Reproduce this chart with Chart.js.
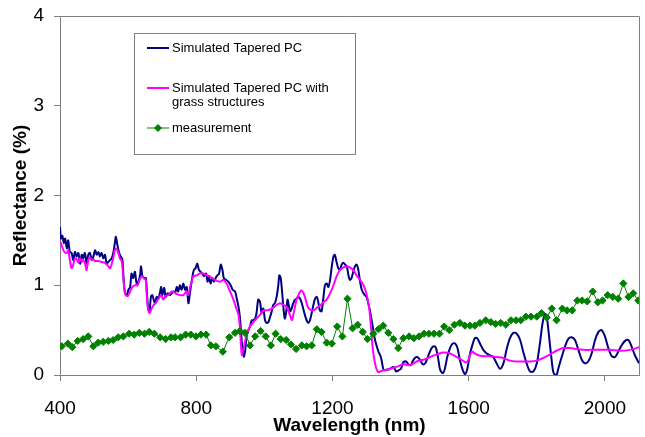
<!DOCTYPE html>
<html>
<head>
<meta charset="utf-8">
<script src="https://cdn.jsdelivr.net/npm/chart.js@4.4.1/dist/chart.umd.min.js"></script>
<style>
  html, body { margin: 0; padding: 0; background: #fff; }
  canvas { display: block; }
</style>
</head>
<body>
<canvas id="chart" width="645" height="437"></canvas>
<script>
const FONT = "'Liberation Sans', Arial, sans-serif";
const COLORS = {
    SIM: '#000080',
    GRASS: '#FF00FF',
    MEAS: '#008000',
    AXIS: '#808080'
};

// Simulated Tapered PC (wavelength nm / reflectance %)
const simWavelength = [400, 403, 407, 411, 415, 420, 424, 429, 434, 439, 444, 449, 454, 459, 464, 468, 473, 478, 483, 488,
    493, 498, 503, 508, 513, 517, 522, 527, 532, 537, 542, 547, 552, 557, 561, 564, 568, 573, 578, 583,
    587, 591, 596, 601, 606, 610, 615, 620, 625, 630, 635, 638, 642, 648, 652, 655, 659, 663, 667, 671,
    675, 679, 684, 689, 694, 697, 700, 706, 710, 716, 723, 728, 733, 738, 743, 747, 752, 757, 762, 767,
    772, 777, 780, 784, 789, 793, 798, 803, 808, 813, 818, 823, 829, 833, 837, 842, 847, 852, 857, 862,
    867, 872, 877, 881, 887, 894, 901, 907, 914, 919, 924, 928, 932, 936, 940, 944, 948, 953, 958, 963,
    968, 973, 977, 982, 987, 992, 997, 1002, 1007, 1012, 1017, 1021, 1026, 1031, 1036, 1041, 1044, 1048, 1052, 1056,
    1060, 1064, 1068, 1072, 1076, 1080, 1085, 1090, 1095, 1100, 1105, 1110, 1114, 1119, 1124, 1129, 1134, 1139, 1144, 1149,
    1154, 1158, 1163, 1168, 1173, 1178, 1183, 1188, 1193, 1198, 1203, 1207, 1212, 1217, 1222, 1227, 1232, 1237, 1242, 1247,
    1251, 1256, 1261, 1266, 1271, 1276, 1281, 1286, 1291, 1295, 1300, 1305, 1310, 1315, 1320, 1325, 1330, 1335, 1340, 1344,
    1349, 1354, 1359, 1364, 1369, 1379, 1387, 1393, 1401, 1408, 1416, 1423, 1430, 1435, 1442, 1449, 1457, 1465, 1472, 1477,
    1484, 1491, 1498, 1504, 1511, 1516, 1524, 1530, 1537, 1545, 1553, 1560, 1567, 1574, 1582, 1589, 1596, 1604, 1612, 1618,
    1625, 1633, 1643, 1653, 1662, 1672, 1682, 1692, 1702, 1711, 1721, 1731, 1741, 1751, 1760, 1770, 1780, 1790, 1800, 1809,
    1817, 1824, 1829, 1834, 1839, 1844, 1848, 1853, 1858, 1863, 1873, 1883, 1892, 1902, 1912, 1922, 1932, 1941, 1951, 1961,
    1971, 1981, 1990, 2000, 2010, 2020, 2030, 2039, 2049, 2059, 2069, 2078, 2088, 2100];
const simReflectance = [1.65, 1.52, 1.55, 1.47, 1.52, 1.41, 1.50, 1.37, 1.36, 1.28, 1.37, 1.32, 1.36, 1.24, 1.34, 1.30, 1.36, 1.24, 1.34, 1.36,
    1.28, 1.32, 1.39, 1.34, 1.37, 1.32, 1.36, 1.30, 1.34, 1.24, 1.26, 1.28, 1.30, 1.37, 1.47, 1.54, 1.46, 1.37, 1.32, 1.29,
    1.06, 0.91, 0.89, 0.95, 0.98, 1.13, 1.08, 1.15, 1.02, 1.04, 1.11, 1.21, 1.10, 1.08, 1.08, 0.93, 0.74, 0.72, 0.87, 0.89,
    0.84, 0.80, 0.87, 0.85, 0.93, 0.98, 0.89, 0.97, 0.87, 0.91, 0.89, 0.91, 0.93, 0.92, 0.98, 0.93, 1.00, 0.95, 1.02, 0.95,
    0.98, 0.80, 0.87, 0.98, 1.10, 1.17, 1.19, 1.24, 1.17, 1.15, 1.13, 1.10, 1.13, 1.04, 1.10, 1.02, 1.08, 1.04, 1.08, 1.11,
    1.13, 1.23, 1.17, 1.08, 1.06, 1.04, 1.00, 0.95, 0.93, 0.85, 0.76, 0.65, 0.46, 0.28, 0.20, 0.28, 0.43, 0.50, 0.54, 0.61,
    0.61, 0.63, 0.69, 0.84, 0.82, 0.69, 0.74, 0.61, 0.58, 0.59, 0.65, 0.70, 0.78, 0.80, 0.87, 1.00, 1.11, 1.08, 0.93, 0.75,
    0.63, 0.70, 0.84, 0.77, 0.71, 0.74, 0.80, 0.84, 0.85, 0.87, 0.85, 0.80, 0.74, 0.67, 0.61, 0.58, 0.61, 0.69, 0.78, 0.85,
    0.87, 0.82, 0.72, 0.71, 0.85, 1.00, 1.02, 0.98, 1.06, 1.21, 1.32, 1.34, 1.26, 1.19, 1.17, 1.23, 1.25, 1.23, 1.21, 1.11,
    1.06, 1.08, 1.15, 1.21, 1.23, 1.17, 1.04, 0.95, 0.91, 0.89, 0.87, 0.80, 0.72, 0.61, 0.50, 0.39, 0.32, 0.26, 0.22, 0.17,
    0.07, 0.05, 0.06, 0.06, 0.07, 0.09, 0.04, 0.05, 0.07, 0.14, 0.15, 0.12, 0.11, 0.15, 0.19, 0.20, 0.17, 0.12, 0.13, 0.17,
    0.24, 0.30, 0.32, 0.30, 0.17, 0.06, 0.02, 0.07, 0.20, 0.30, 0.35, 0.35, 0.30, 0.17, 0.06, 0.01, 0.07, 0.24, 0.35, 0.41,
    0.41, 0.35, 0.28, 0.24, 0.22, 0.20, 0.13, 0.07, 0.13, 0.28, 0.41, 0.47, 0.46, 0.39, 0.26, 0.13, 0.04, 0.04, 0.13, 0.35,
    0.58, 0.68, 0.65, 0.50, 0.32, 0.15, 0.04, 0.00, 0.00, 0.07, 0.20, 0.32, 0.40, 0.42, 0.39, 0.28, 0.17, 0.13, 0.15, 0.24,
    0.39, 0.48, 0.50, 0.43, 0.30, 0.21, 0.20, 0.26, 0.33, 0.38, 0.39, 0.32, 0.22, 0.13];

// Simulated Tapered PC with grass structures
const grassWavelength = [400, 405, 413, 420, 424, 429, 434, 439, 444, 449, 454, 459, 464, 468, 473, 478, 483, 488, 493, 498,
    503, 513, 522, 532, 542, 547, 552, 557, 561, 566, 571, 576, 581, 585, 589, 593, 599, 606, 612, 620,
    628, 635, 642, 648, 652, 655, 659, 663, 669, 675, 681, 689, 697, 703, 710, 718, 728, 736, 743, 752,
    762, 772, 777, 782, 787, 791, 801, 811, 821, 831, 840, 850, 860, 870, 880, 889, 897, 904, 911, 917,
    924, 928, 931, 934, 938, 943, 948, 953, 958, 968, 977, 987, 997, 1007, 1017, 1026, 1036, 1046, 1056, 1065,
    1075, 1081, 1085, 1090, 1095, 1100, 1105, 1110, 1114, 1119, 1124, 1129, 1134, 1139, 1144, 1149, 1154, 1163, 1173, 1183,
    1193, 1203, 1212, 1222, 1232, 1242, 1251, 1261, 1271, 1281, 1291, 1298, 1303, 1308, 1312, 1316, 1320, 1325, 1330, 1335,
    1340, 1349, 1359, 1369, 1388, 1408, 1428, 1447, 1467, 1486, 1506, 1525, 1545, 1565, 1579, 1592, 1599, 1609, 1618, 1628,
    1643, 1662, 1682, 1702, 1721, 1741, 1760, 1780, 1800, 1819, 1839, 1858, 1878, 1897, 1917, 1937, 1956, 1985, 2015, 2044,
    2074, 2100];
const grassReflectance = [1.49, 1.44, 1.37, 1.36, 1.39, 1.28, 1.19, 1.23, 1.30, 1.29, 1.25, 1.30, 1.26, 1.28, 1.25, 1.17, 1.28, 1.31, 1.28, 1.29,
    1.27, 1.27, 1.26, 1.25, 1.21, 1.19, 1.24, 1.32, 1.39, 1.41, 1.36, 1.30, 1.27, 1.13, 0.95, 0.89, 0.88, 0.93, 0.98, 1.00,
    1.00, 1.07, 1.10, 1.07, 1.06, 0.87, 0.72, 0.69, 0.74, 0.78, 0.80, 0.85, 0.89, 0.84, 0.88, 0.89, 0.93, 0.92, 0.90, 0.89,
    0.89, 0.93, 0.89, 0.98, 1.04, 1.10, 1.11, 1.13, 1.13, 1.11, 1.10, 1.07, 1.05, 1.04, 1.06, 1.02, 0.95, 0.89, 0.82, 0.75,
    0.67, 0.54, 0.35, 0.22, 0.28, 0.37, 0.45, 0.50, 0.54, 0.59, 0.63, 0.67, 0.72, 0.72, 0.73, 0.75, 0.78, 0.80, 0.78, 0.76,
    0.67, 0.61, 0.67, 0.76, 0.85, 0.89, 0.93, 0.94, 0.92, 0.87, 0.80, 0.75, 0.73, 0.72, 0.72, 0.73, 0.75, 0.77, 0.81, 0.84,
    0.91, 1.00, 1.10, 1.17, 1.20, 1.21, 1.20, 1.17, 1.11, 1.06, 1.00, 0.93, 0.85, 0.74, 0.58, 0.39, 0.24, 0.13, 0.06, 0.03,
    0.04, 0.05, 0.06, 0.07, 0.09, 0.12, 0.11, 0.15, 0.17, 0.20, 0.23, 0.25, 0.24, 0.20, 0.17, 0.14, 0.17, 0.26, 0.24, 0.22,
    0.21, 0.21, 0.20, 0.19, 0.16, 0.15, 0.15, 0.15, 0.16, 0.19, 0.23, 0.27, 0.30, 0.30, 0.29, 0.28, 0.28, 0.28, 0.28, 0.27,
    0.28, 0.31];

// measurement
const measWavelength = [405, 423, 436, 452, 468, 483, 498, 512, 527, 542, 556, 571, 586, 603, 618, 633, 648, 662, 677, 694,
    710, 726, 738, 754, 769, 784, 799, 814, 829, 843, 858, 878, 897, 914, 928, 943, 958, 973, 989, 1004,
    1019, 1033, 1048, 1064, 1078, 1093, 1110, 1124, 1139, 1154, 1168, 1183, 1198, 1214, 1229, 1244, 1259, 1274, 1289, 1303,
    1320, 1335, 1349, 1364, 1379, 1393, 1408, 1425, 1439, 1454, 1469, 1483, 1498, 1514, 1528, 1543, 1558, 1574, 1589, 1604,
    1618, 1633, 1650, 1665, 1679, 1694, 1709, 1724, 1739, 1753, 1768, 1783, 1800, 1814, 1829, 1844, 1858, 1875, 1889, 1904,
    1919, 1933, 1948, 1964, 1979, 1993, 2008, 2023, 2039, 2054, 2069, 2083, 2098];
const measReflectance = [0.32, 0.35, 0.31, 0.38, 0.40, 0.43, 0.32, 0.36, 0.37, 0.38, 0.39, 0.42, 0.43, 0.46, 0.45, 0.47, 0.46, 0.48, 0.46, 0.42,
    0.40, 0.42, 0.42, 0.42, 0.45, 0.45, 0.43, 0.45, 0.45, 0.33, 0.32, 0.26, 0.42, 0.47, 0.49, 0.47, 0.33, 0.43, 0.49, 0.43,
    0.33, 0.46, 0.40, 0.39, 0.34, 0.29, 0.33, 0.32, 0.33, 0.51, 0.48, 0.36, 0.35, 0.54, 0.43, 0.85, 0.52, 0.56, 0.48, 0.40,
    0.46, 0.51, 0.55, 0.47, 0.40, 0.30, 0.41, 0.43, 0.41, 0.43, 0.46, 0.46, 0.46, 0.46, 0.54, 0.50, 0.56, 0.58, 0.55, 0.55,
    0.55, 0.58, 0.61, 0.59, 0.57, 0.58, 0.56, 0.61, 0.61, 0.61, 0.65, 0.65, 0.65, 0.69, 0.64, 0.74, 0.61, 0.74, 0.72, 0.72,
    0.83, 0.83, 0.82, 0.93, 0.81, 0.83, 0.89, 0.87, 0.85, 1.02, 0.87, 0.91, 0.83];

const xTicks = [400, 800, 1200, 1600, 2000];
const yTicks = [0, 1, 2, 3, 4];

const legendItems = [
    { lines: ['Simulated Tapered PC'], color: COLORS.SIM, width: 2, marker: false },
    { lines: ['Simulated Tapered PC with', 'grass structures'], color: COLORS.GRASS, width: 2, marker: false },
    { lines: ['measurement'], color: COLORS.MEAS, width: 1, marker: true }
];

const toPoints = (xs, ys) => xs.map((x, i) => ({ x: x, y: ys[i] }));

// gray frame around the plot area plus the boxed legend
const framePlugin = {
    id: 'frame',
    afterDatasetsDraw(chart) {
        const { ctx, chartArea } = chart;
        ctx.save();
        ctx.strokeStyle = COLORS.AXIS;
        ctx.lineWidth = 1;
        ctx.beginPath();
        ctx.moveTo(chartArea.left, chartArea.top + 0.5);
        ctx.lineTo(chartArea.right + 0.5, chartArea.top + 0.5);
        ctx.lineTo(chartArea.right + 0.5, chartArea.bottom);
        ctx.stroke();

        // legend box
        const bx = 134.5, by = 33.5, bw = 221, bh = 121;
        ctx.fillStyle = '#fff';
        ctx.fillRect(bx, by, bw, bh);
        ctx.strokeStyle = '#808080';
        ctx.strokeRect(bx, by, bw, bh);

        const rowsY = [48, 88, 128];
        ctx.font = '13px ' + FONT;
        ctx.textBaseline = 'middle';
        ctx.textAlign = 'left';
        legendItems.forEach((item, i) => {
            const y = rowsY[i];
            ctx.strokeStyle = item.color;
            ctx.lineWidth = item.width;
            ctx.beginPath();
            ctx.moveTo(147, y);
            ctx.lineTo(169, y);
            ctx.stroke();
            if (item.marker) {
                ctx.fillStyle = item.color;
                ctx.beginPath();
                ctx.moveTo(158, y - 4);
                ctx.lineTo(162, y);
                ctx.lineTo(158, y + 4);
                ctx.lineTo(154, y);
                ctx.closePath();
                ctx.fill();
            }
            ctx.fillStyle = '#000';
            item.lines.forEach((t, j) => ctx.fillText(t, 172, y + j * 14));
        });
        ctx.restore();
    }
};

new Chart(document.getElementById('chart').getContext('2d'), {
    type: 'line',
    data: {
        datasets: [
            {
                label: 'Simulated Tapered PC',
                data: toPoints(simWavelength, simReflectance),
                borderColor: COLORS.SIM,
                borderWidth: 2,
                pointRadius: 0,
                tension: 0.3,
                order: 2
            },
            {
                label: 'Simulated Tapered PC with grass structures',
                data: toPoints(grassWavelength, grassReflectance),
                borderColor: COLORS.GRASS,
                borderWidth: 2,
                pointRadius: 0,
                tension: 0.3,
                order: 1
            },
            {
                label: 'measurement',
                data: toPoints(measWavelength, measReflectance),
                borderColor: COLORS.MEAS,
                backgroundColor: COLORS.MEAS,
                borderWidth: 1,
                pointStyle: 'rectRot',
                pointRadius: 3.6,
                pointBorderWidth: 1,
                tension: 0,
                order: 0
            }
        ]
    },
    options: {
        responsive: false,
        animation: false,
        layout: { padding: { top: 16, right: 6, left: 0, bottom: 0 } },
        plugins: {
            legend: { display: false },
            tooltip: { enabled: false }
        },
        scales: {
            x: {
                type: 'linear',
                min: 400,
                max: 2100,
                afterFit: scale => { scale.height = 62; },
                afterBuildTicks: scale => { scale.ticks = xTicks.map(v => ({ value: v })); },
                ticks: {
                    font: { family: FONT, size: 19 },
                    color: '#000',
                    padding: 16,
                    maxRotation: 0,
                    autoSkip: false,
                    callback: v => String(v)
                },
                grid: { drawOnChartArea: false, drawTicks: true, tickLength: 6, color: COLORS.AXIS },
                border: { color: COLORS.AXIS, width: 1 },
                title: {
                    display: true,
                    text: 'Wavelength (nm)',
                    font: { family: FONT, size: 19, weight: 'bold' },
                    color: '#000',
                    padding: { top: 0, bottom: 0 }
                }
            },
            y: {
                min: 0,
                max: 4,
                afterFit: scale => {
                    scale.width = 60;
                    scale.paddingTop = 10;
                    scale.paddingBottom = 10;
                },
                afterBuildTicks: scale => { scale.ticks = yTicks.map(v => ({ value: v })); },
                ticks: {
                    font: { family: FONT, size: 19 },
                    color: '#000',
                    padding: 10,
                    callback: v => String(v)
                },
                grid: { drawOnChartArea: false, drawTicks: true, tickLength: 6, color: COLORS.AXIS },
                border: { color: COLORS.AXIS, width: 1 },
                title: {
                    display: true,
                    text: 'Reflectance (%)',
                    font: { family: FONT, size: 19, weight: 'bold' },
                    color: '#000',
                    padding: { top: 9, bottom: 0 }
                }
            }
        }
    },
    plugins: [framePlugin]
});
</script>
</body>
</html>
